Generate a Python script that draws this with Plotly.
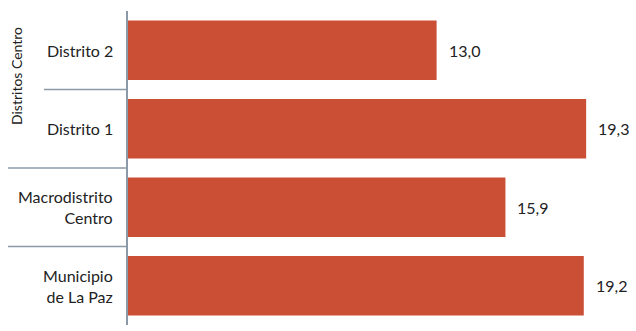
import plotly.graph_objects as go

categories = ["Distrito 2", "Distrito 1", "Macrodistrito<br>Centro", "Municipio<br>de La Paz"]
values = [13.0, 19.3, 15.9, 19.2]
group_label = "Distritos Centro"

W, H = 636, 331
ML, MR, MT, MB = 128, 0, 11, 6
PW = W - ML - MR
PH = H - MT - MB

bar_color = "#cb4f35"
line_color = "#8a9aa8"
font_family = "Lato, 'Open Sans', sans-serif"
fs = 16

fig = go.Figure(go.Bar(
    x=values, y=list(range(len(categories))), orientation="h",
    marker=dict(color=bar_color, line=dict(width=0)),
    hoverinfo="skip",
))

annotations = []
for i, (c, v) in enumerate(zip(categories, values)):
    annotations.append(dict(
        x=v, y=i, xref="x", yref="y", text=f"{v:.1f}".replace(".", ","),
        xanchor="left", yanchor="middle", xshift=10, showarrow=False,
        font=dict(size=fs, color="#222222", family=font_family)))
    annotations.append(dict(
        x=0, y=i, xref="paper", yref="y", text=c, align="right",
        xanchor="right", yanchor="middle", xshift=-13, showarrow=False,
        font=dict(size=fs, color="#222222", family=font_family)))

annotations.append(dict(
    x=(17 - ML) / PW, y=(H - MB - 76) / PH, xref="paper", yref="paper",
    text=group_label, textangle=-90, showarrow=False,
    xanchor="center", yanchor="middle",
    font=dict(size=14, color="#222222", family=font_family)))

shapes = []
for yb, xs in [(0.5, 44), (1.5, 8), (2.5, 8)]:
    shapes.append(dict(type="line", xref="paper", yref="y",
                       x0=(xs - ML) / PW, x1=0, y0=yb, y1=yb,
                       line=dict(color=line_color, width=1.5)))

fig.update_layout(
    width=W, height=H,
    margin=dict(l=ML, r=MR, t=MT, b=MB),
    paper_bgcolor="white", plot_bgcolor="white",
    bargap=0.24, showlegend=False,
    xaxis=dict(range=[0, 21.4], visible=False, fixedrange=True),
    yaxis=dict(range=[len(categories) - 0.5, -0.5], showticklabels=False,
               showgrid=False, zeroline=False, showline=True,
               linecolor=line_color, linewidth=1.5, ticks=""),
    annotations=annotations, shapes=shapes,
)

fig.write_html("out.html")
